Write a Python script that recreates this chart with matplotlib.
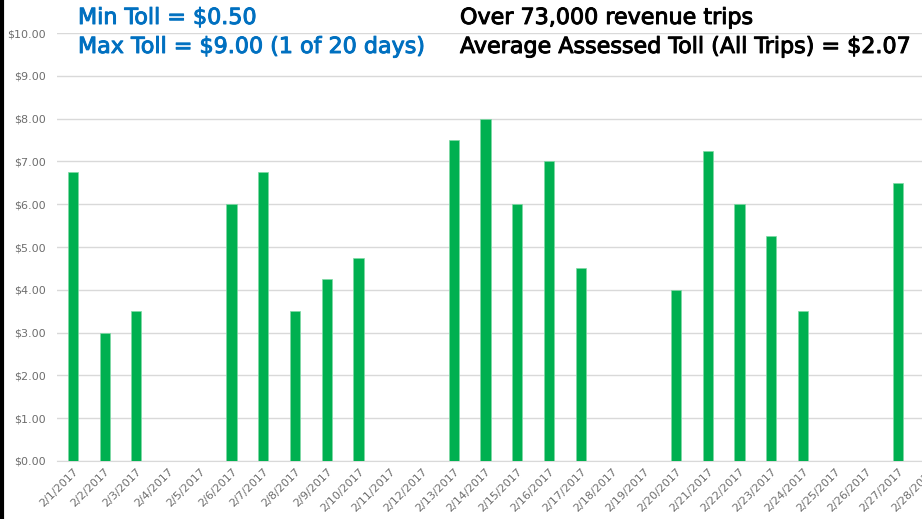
import matplotlib.pyplot as plt
import matplotlib.patheffects as pe
import numpy as np
from matplotlib.lines import Line2D

dates = [f'2/{d}/2017' for d in range(1, 29)]
tolls = [6.75, 3.00, 3.50, 0, 0, 6.00, 6.75, 3.50, 4.25, 4.75,
         0, 0, 7.50, 8.00, 6.00, 7.00, 4.50, 0, 0, 4.00,
         7.25, 6.00, 5.25, 3.50, 0, 0, 6.50, 0]
y_ticks = [0, 1, 2, 3, 4, 5, 6, 7, 8, 9, 10]

GREEN = '#00B050'
BLUE = '#0070C0'
GRAY = '#6E6E6E'


def main():
    plt.rcParams['font.family'] = ['DejaVu Sans']
    fig = plt.figure(figsize=(9.22, 5.19), dpi=100)
    ax = fig.add_axes([0.0618, 0.1118, 0.964, 0.8245])

    x = np.arange(len(dates))
    ax.bar(x, tolls, 0.32, color=GREEN, edgecolor='#7fd9a5', linewidth=0.5, zorder=3)

    ax.set_xlim(-0.5, len(dates) - 0.5)
    ax.set_ylim(0, 10)
    ax.set_yticks(y_ticks)
    ax.set_yticklabels([f'${v:.2f}' for v in y_ticks], color=GRAY, fontsize=8)
    ax.set_xticks(x)
    ax.set_xticklabels(dates, rotation=45, ha='right', rotation_mode='anchor',
                       color=GRAY, fontsize=8)
    ax.tick_params(length=0, axis='y', pad=8)
    ax.tick_params(length=0, axis='x', pad=4)
    ax.grid(True, axis='y', color='#D9D9D9', linewidth=1, zorder=0)
    for s in ['top', 'right', 'left']:
        ax.spines[s].set_visible(False)
    ax.spines['bottom'].set_color('#D9D9D9')

    def title(xp, yp, s, color):
        fig.text(xp / 922, 1 - yp / 519, s, color=color, fontsize=16, va='center', ha='left',
                 path_effects=[pe.withStroke(linewidth=0.7, foreground=color)])

    title(78, 18, 'Min Toll = $0.50', BLUE)
    title(78, 47, 'Max Toll = $9.00 (1 of 20 days)', BLUE)
    title(460, 18, 'Over 73,000 revenue trips', 'black')
    title(460, 47, 'Average Assessed Toll (All Trips) = $2.07', 'black')

    fig.add_artist(Line2D([0.002, 0.002], [0, 1], color='black', linewidth=3,
                          transform=fig.transFigure))

    fig.savefig('out.png', dpi=100)


if __name__ == '__main__':
    main()
